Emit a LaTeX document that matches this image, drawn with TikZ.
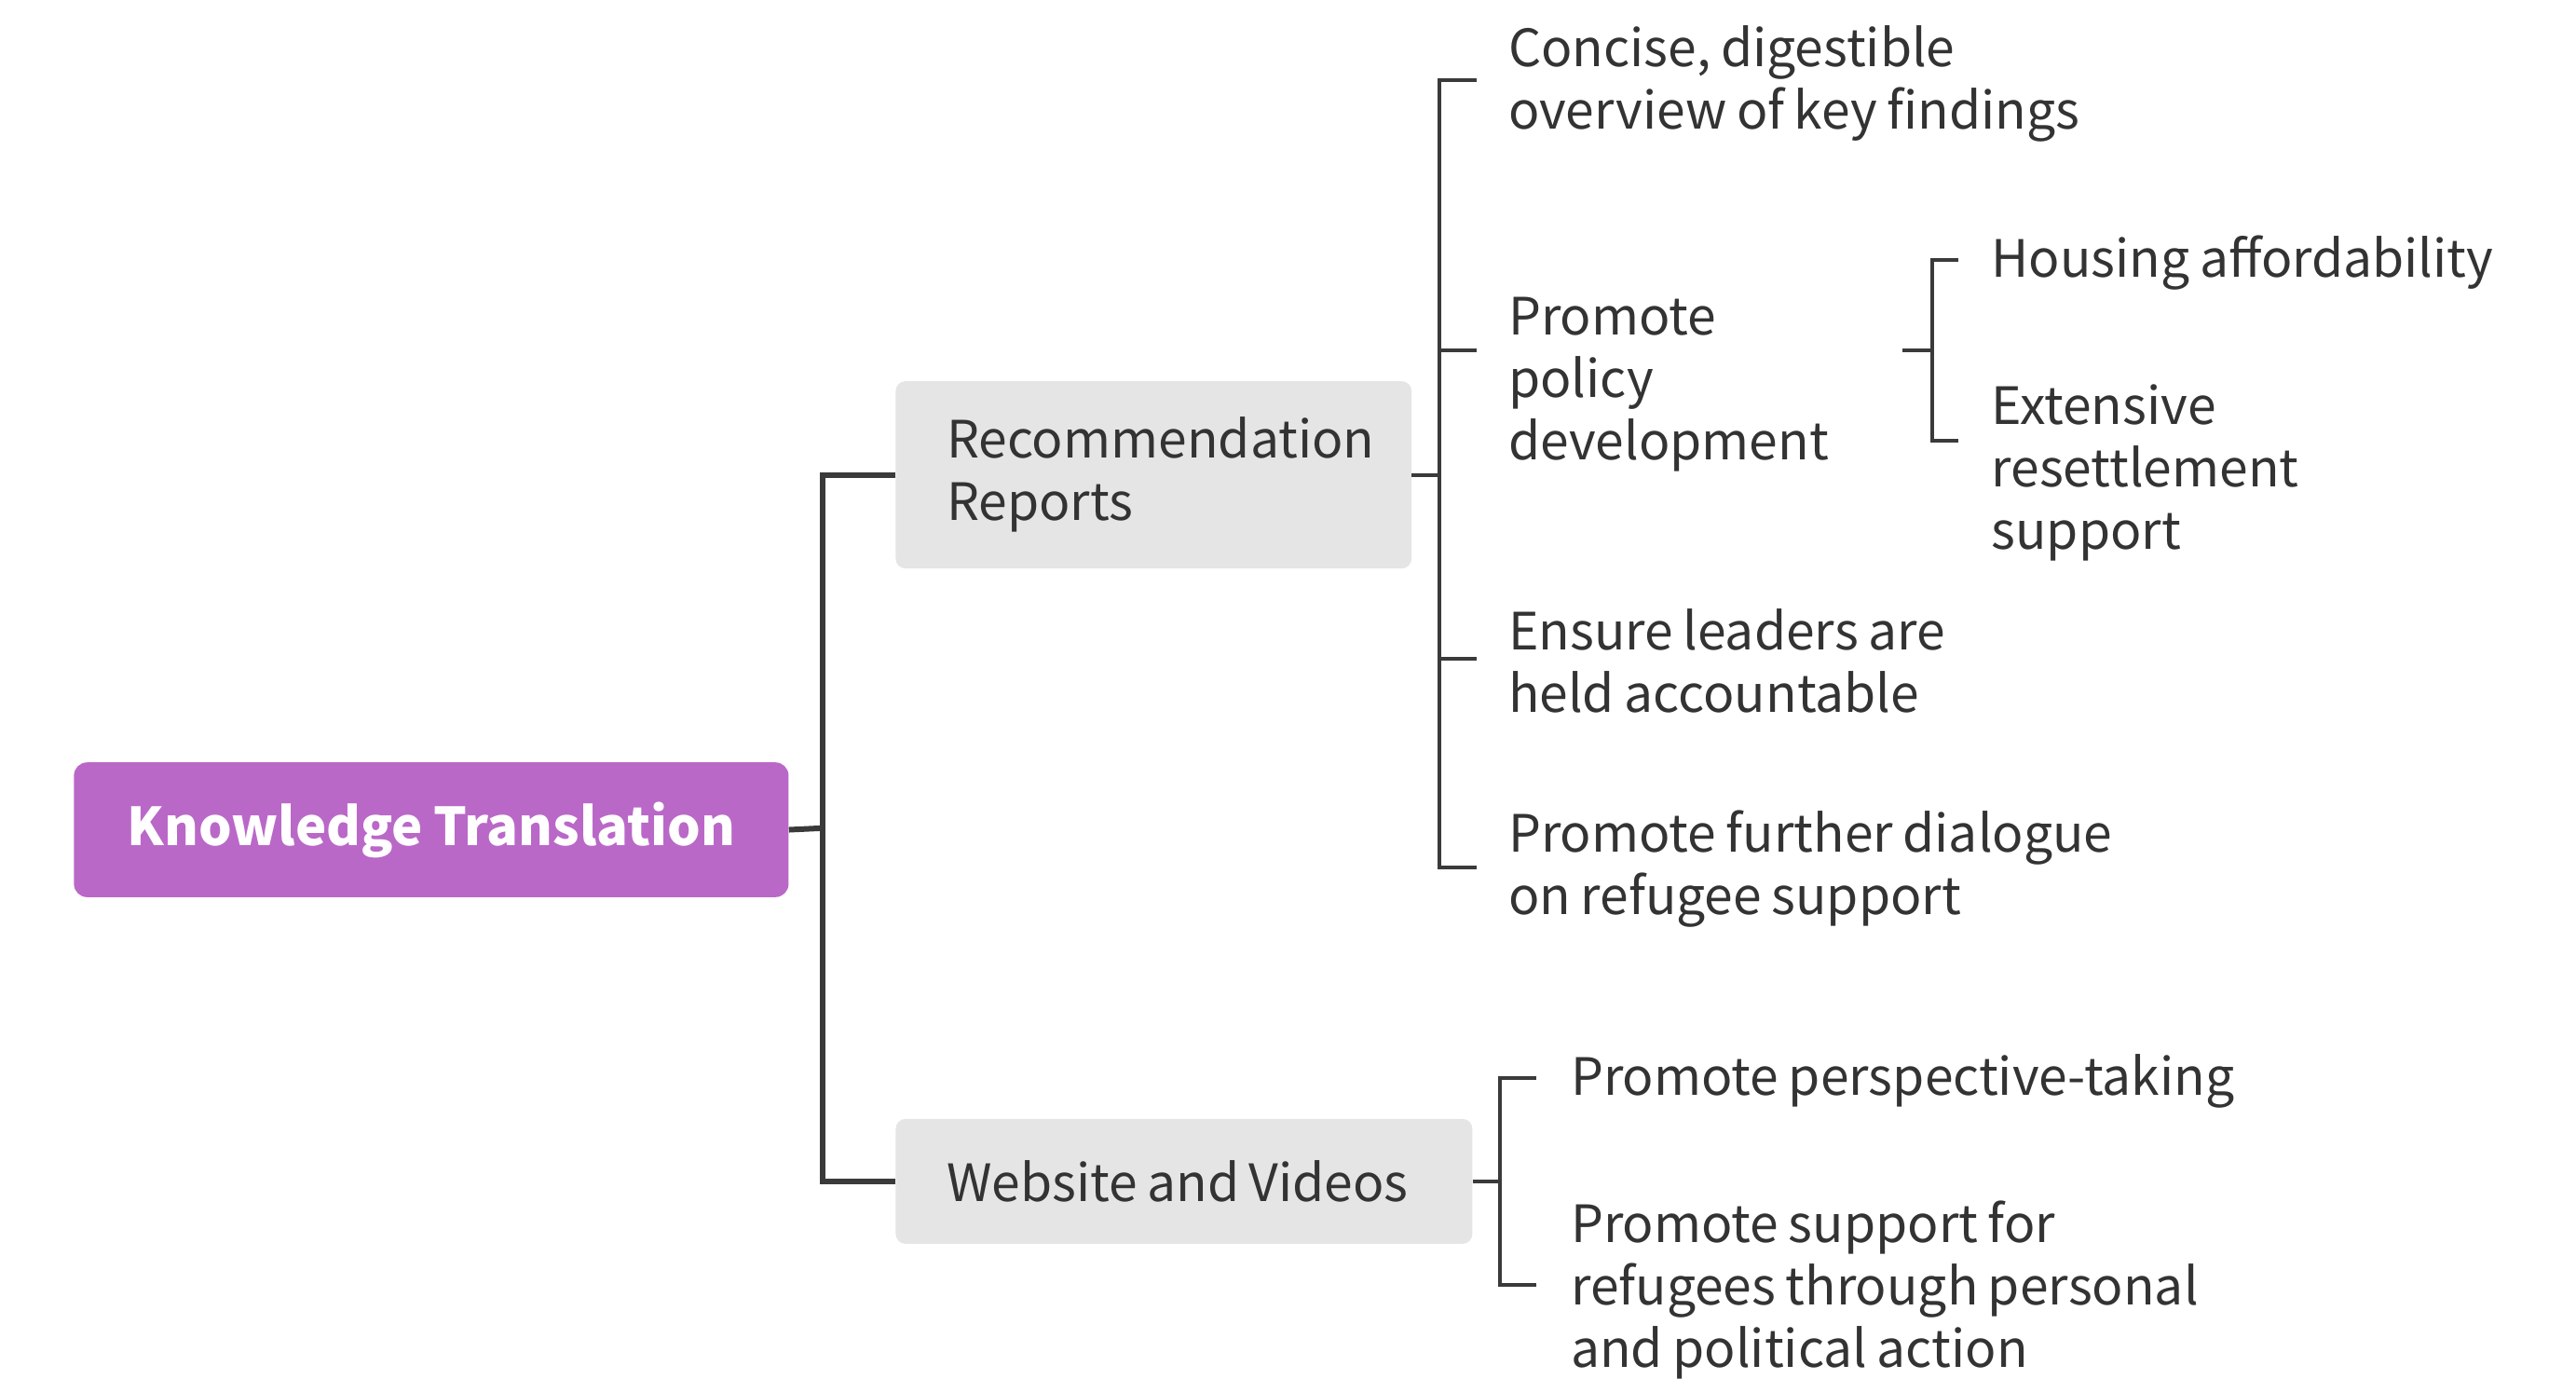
\documentclass[tikz,border=0pt]{standalone}
\usepackage{fontspec}
\setmainfont[WordSpace=0.85]{Noto Sans CJK SC}
\definecolor{tcol}{HTML}{333333}
\definecolor{lcol}{HTML}{3A3A3A}
\definecolor{boxgray}{HTML}{E5E5E5}
\definecolor{purp}{HTML}{BA68C8}
\begin{document}
\begin{tikzpicture}[x=1pt,y=-1pt,
  txt/.style={inner sep=0pt, anchor=west, align=left, text=tcol, font=\fontsize{31.3}{38}\selectfont},
  graybox/.style={fill=boxgray, rounded corners=6pt, anchor=west, inner xsep=31pt, inner ysep=0pt, align=left, text=tcol, font=\fontsize{31.3}{38}\selectfont},
  rootbox/.style={fill=purp, rounded corners=8pt, text=white, inner sep=0pt, font=\fontsize{31.8}{38}\selectfont\bfseries},
  l1/.style={draw=lcol, line width=3.4pt},
  l2/.style={draw=lcol, line width=2.3pt}]
\useasboundingbox (0,0) rectangle (1568,839);
% main nodes
\node[rootbox, minimum width=435pt, minimum height=82pt] (root) at (262.5,505) {Knowledge Translation};
\node[graybox, minimum width=314pt, minimum height=114pt] (rec) at (545,289) {\makebox[252pt][l]{Recommendation}\\Reports};
\node[graybox, minimum width=351pt, minimum height=76pt] (web) at (545,719) {\makebox[289pt][l]{Website and Videos}};
% leaves
\node[txt] (a1) at (918,51) {Concise, digestible\\overview of key findings};
\node[txt] (a2) at (918,234) {Promote\\policy\\development};
\node[txt] (a3) at (918,402) {Ensure leaders are\\held accountable};
\node[txt] (a4) at (918,529) {Promote further dialogue\\on refugee support};
\node[txt] (b1) at (1212,160) {Housing affordability};
\node[txt] (b2) at (1212,288) {Extensive\\resettlement\\support};
\node[txt] (c1) at (956,658) {Promote perspective-taking};
\node[txt] (c2) at (956,785) {Promote support for\\refugees through personal\\and political action};
% junctions and tick ends
\coordinate (j1) at (501,504);
\coordinate (j2) at (876,289);
\coordinate (j3) at (913,719);
\coordinate (j4) at (1176,213);
\coordinate (s4) at (1158,213);
\coordinate (k1) at (899,49);
\coordinate (k2) at (899,213);
\coordinate (k3) at (899,401);
\coordinate (k4) at (899,528);
\coordinate (m1) at (1192,158);
\coordinate (m2) at (1192,268);
\coordinate (n1) at (935,656);
\coordinate (n2) at (935,782);
% connectors
\draw[l1] (root.east) -- (j1);
\draw[l1] (rec.west) -| (j1) |- (web.west);
\draw[l2] (rec.east) -- (j2);
\draw[l2] (k1) -| (j2) |- (k4);
\draw[l2] (k2) -| (j2);
\draw[l2] (k3) -| (j2);
\draw[l2] (s4) -- (j4);
\draw[l2] (m1) -| (j4) |- (m2);
\draw[l2] (web.east) -- (j3);
\draw[l2] (n1) -| (j3) |- (n2);
\end{tikzpicture}
\end{document}
